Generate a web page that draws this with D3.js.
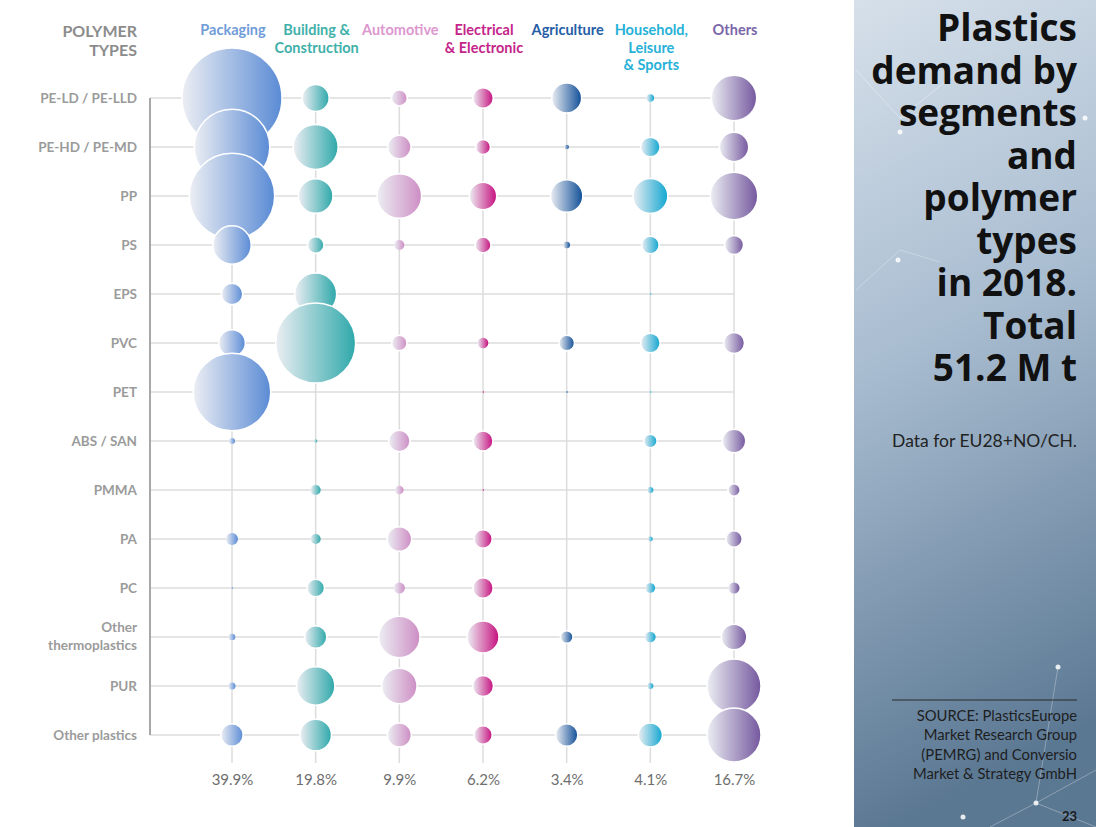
<!DOCTYPE html>
<html>
<head>
<meta charset="utf-8">
<script src="https://cdnjs.cloudflare.com/ajax/libs/d3/7.8.5/d3.min.js"></script>
<style>
body { margin: 0; background: #fff; }
svg { display: block; font-family: Lato, "Noto Sans", sans-serif; }
</style>
</head>
<body>
<script>
// rows and columns
var polymers = ['PE-LD / PE-LLD', 'PE-HD / PE-MD', 'PP', 'PS', 'EPS', 'PVC', 'PET', 'ABS / SAN',
    'PMMA', 'PA', 'PC', 'Other thermoplastics', 'PUR', 'Other plastics'];
var segments = ['Packaging', 'Building & Construction', 'Automotive', 'Electrical & Electronic',
    'Agriculture', 'Household, Leisure & Sports', 'Others'];
var shares = ['39.9%', '19.8%', '9.9%', '6.2%', '3.4%', '4.1%', '16.7%'];

// demand in kt (same order as polymers)
var packaging   = [6300, 3600, 4590, 930, 290, 450, 3790, 23, 0, 90, 3, 28, 31, 315];
var building    = [460, 1275, 755, 175, 1110, 4030, 0, 7, 63, 63, 195, 315, 930, 630];
var automotive  = [161, 345, 1252, 63, 0, 149, 0, 288, 45, 381, 76, 1079, 789, 363];
var electrical  = [267, 141, 474, 161, 0, 71, 3, 252, 3, 214, 262, 645, 277, 214];
var agriculture = [567, 13, 660, 28, 0, 154, 3, 0, 0, 0, 0, 101, 0, 315];
var household   = [35, 242, 771, 194, 3, 242, 3, 116, 23, 15, 58, 71, 23, 363];
var others      = [1298, 544, 1426, 227, 0, 277, 0, 345, 96, 169, 76, 413, 1837, 1837];

var values = [packaging, building, automotive, electrical, agriculture, household, others];

var headLines = [['Packaging'], ['Building &', 'Construction'], ['Automotive'], ['Electrical', '& Electronic'],
    ['Agriculture'], ['Household,', 'Leisure', '& Sports'], ['Others']];
var headColors = ['#6f9cd8', '#3fb0aa', '#dc98cf', '#c4258a', '#265ea6', '#27b1d7', '#7a66a8'];
var bubbleColors = ['#5a8bd5', '#2ea8aa', '#cd8dc4', '#c60f7e', '#0f4e97', '#10a6d0', '#74579e'];

var titleLines = ['Plastics', 'demand by', 'segments', 'and', 'polymer', 'types', 'in 2018.', 'Total', '51.2 M t'];
var sourceLines = ['SOURCE: PlasticsEurope', 'Market Research Group', '(PEMRG) and Conversio', 'Market & Strategy GmbH'];

var w = 1096, h = 827;
var svg = d3.select('body').append('svg')
    .attr('width', w)
    .attr('height', h);

var defs = svg.append('defs');

// scales
var xScale = d3.scalePoint().domain(segments).range([232, 734]);
var yScale = d3.scalePoint().domain(polymers).range([98, 735]);
var rScale = d3.scaleSqrt().domain([0, 6300]).range([0, 50]);

// right side panel
var panelGrad = defs.append('linearGradient').attr('id', 'panel')
    .attr('x1', 0).attr('y1', 0).attr('x2', 0.15).attr('y2', 1);
panelGrad.append('stop').attr('offset', '0%').attr('stop-color', '#d6e0ea');
panelGrad.append('stop').attr('offset', '45%').attr('stop-color', '#a8bcd0');
panelGrad.append('stop').attr('offset', '100%').attr('stop-color', '#5b7893');

svg.append('rect')
    .attr('x', 854).attr('y', 0)
    .attr('width', w - 854).attr('height', h)
    .attr('fill', 'url(#panel)');

// faint network decoration
var deco = svg.append('g').attr('stroke', '#fff').attr('stroke-width', 1).attr('fill', 'none');
deco.append('path').attr('d', 'M856,70 L900,118 L940,110 M900,118 L960,70').attr('stroke-opacity', 0.35);
deco.append('path').attr('d', 'M856,290 L900,250 L940,262').attr('stroke-opacity', 0.3);
deco.append('path').attr('d', 'M1036,803 L1096,770 M1036,803 L1096,827 M1036,803 L990,827 M1036,803 L1058,667')
    .attr('stroke-opacity', 0.3);
[[1058, 667], [1036, 803], [963, 817], [1085, 118], [900, 132], [898, 260]].forEach(function (p) {
    svg.append('circle').attr('cx', p[0]).attr('cy', p[1]).attr('r', 2.5).attr('fill', '#fff').attr('fill-opacity', 0.85);
});

// grid
var grid = svg.append('g');
grid.selectAll('line.row')
    .data(polymers)
    .enter().append('line')
    .attr('class', 'row')
    .attr('x1', 150).attr('x2', xScale('Others'))
    .attr('y1', function (d) { return yScale(d); })
    .attr('y2', function (d) { return yScale(d); })
    .attr('stroke', '#dcdcdc').attr('stroke-width', 1.5);

grid.selectAll('line.col')
    .data(segments)
    .enter().append('line')
    .attr('class', 'col')
    .attr('x1', function (d) { return xScale(d); })
    .attr('x2', function (d) { return xScale(d); })
    .attr('y1', yScale.range()[0]).attr('y2', 763)
    .attr('stroke', '#dcdcdc').attr('stroke-width', 1.5);

grid.append('line')
    .attr('x1', 150).attr('x2', 150)
    .attr('y1', yScale.range()[0]).attr('y2', yScale.range()[1])
    .attr('stroke', '#a8a8a8').attr('stroke-width', 2);

// gradients for bubbles
segments.forEach(function (s, i) {
    var g = defs.append('linearGradient').attr('id', 'bub' + i)
        .attr('x1', 0).attr('y1', 0).attr('x2', 1).attr('y2', 0);
    g.append('stop').attr('offset', '0%').attr('stop-color', '#eceef3');
    g.append('stop').attr('offset', '100%').attr('stop-color', bubbleColors[i]);
});

// bubbles, row by row so lower ones sit on top
var cells = [];
polymers.forEach(function (p, j) {
    segments.forEach(function (s, i) {
        if (values[i][j] > 0) cells.push({ seg: s, si: i, poly: p, v: values[i][j] });
    });
});

svg.append('g').selectAll('circle')
    .data(cells)
    .enter().append('circle')
    .attr('cx', function (d) { return xScale(d.seg); })
    .attr('cy', function (d) { return yScale(d.poly); })
    .attr('r', function (d) { return rScale(d.v); })
    .attr('fill', function (d) { return 'url(#bub' + d.si + ')'; })
    .attr('stroke', '#fff')
    .attr('stroke-width', function (d) { return rScale(d.v) > 6 ? 1.5 : 0; });

// row labels
var rowLab = svg.append('g')
    .attr('fill', '#9b9b9b').attr('font-weight', 700).attr('font-size', 13.5)
    .attr('text-anchor', 'end');
polymers.forEach(function (p) {
    var t = rowLab.append('text').attr('x', 137).attr('y', yScale(p) + 4.5);
    if (p === 'Other thermoplastics') {
        t.attr('y', yScale(p) - 5).text('Other');
        rowLab.append('text').attr('x', 137).attr('y', yScale(p) + 13).text('thermoplastics');
    } else {
        t.text(p);
    }
});

// header
var head = svg.append('g').attr('font-weight', 700).attr('font-size', 16).attr('fill', '#8c8c8c')
    .attr('text-anchor', 'end');
head.append('text').attr('x', 137).attr('y', 37).text('POLYMER');
head.append('text').attr('x', 137).attr('y', 56).text('TYPES');

segments.forEach(function (s, i) {
    var t = svg.append('text')
        .attr('text-anchor', 'middle')
        .attr('font-weight', 700).attr('font-size', 14.5)
        .attr('fill', headColors[i]);
    headLines[i].forEach(function (l, k) {
        t.append('tspan').attr('x', xScale(s) + 1).attr('y', 35 + k * 17.5).text(l);
    });
});

// share axis
var xAxis = d3.axisBottom(xScale)
    .tickSize(0)
    .tickPadding(0)
    .tickFormat(function (d, i) { return shares[i]; });

svg.append('g')
    .attr('transform', 'translate(0,774)')
    .call(xAxis)
    .call(function (g) { g.select('.domain').remove(); })
    .selectAll('text')
    .attr('font-family', 'Lato, sans-serif')
    .attr('font-size', 15)
    .attr('fill', '#6e6e6e');

// panel text
var title = svg.append('g').attr('text-anchor', 'end').attr('font-weight', 700)
    .attr('font-family', '"Open Sans", sans-serif')
    .attr('font-size', 37).attr('fill', '#111');
titleLines.forEach(function (l, k) {
    title.append('text').attr('x', 1077).attr('y', 41 + k * 42.5).text(l);
});

svg.append('text').attr('x', 1077).attr('y', 447).attr('text-anchor', 'end')
    .attr('font-size', 17.5).attr('fill', '#222').text('Data for EU28+NO/CH.');

svg.append('line').attr('x1', 892).attr('x2', 1077).attr('y1', 700).attr('y2', 700)
    .attr('stroke', '#2b2b2b').attr('stroke-width', 1.2);

var src = svg.append('g').attr('text-anchor', 'end').attr('font-size', 14.8).attr('fill', '#1e1e1e');
sourceLines.forEach(function (l, k) {
    src.append('text').attr('x', 1077).attr('y', 721 + k * 19.3).text(l);
});

svg.append('text').attr('x', 1077).attr('y', 821).attr('text-anchor', 'end')
    .attr('font-size', 13).attr('font-weight', 700).attr('fill', '#1a1a1a').text('23');
</script>
</body>
</html>
